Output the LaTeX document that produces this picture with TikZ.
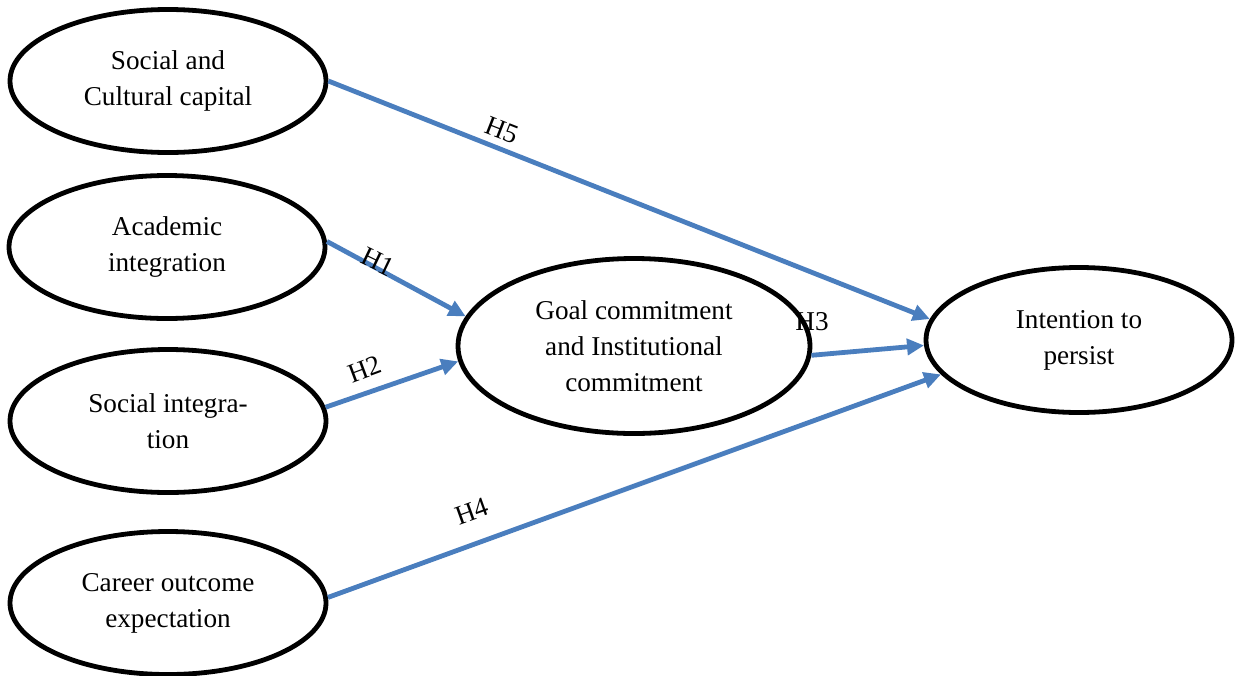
\documentclass[tikz,border=0pt]{standalone}
\usepackage{fontspec}
\setmainfont{Liberation Serif}
\usetikzlibrary{arrows.meta,shapes.geometric}
\definecolor{arrblue}{RGB}{74,126,190}
\begin{document}
\begin{tikzpicture}[x=0.5pt,y=-0.5pt,
  ell/.style={ellipse,draw=black,line width=2.4pt,inner sep=0pt,align=center,
    font=\fontsize{13.6pt}{18pt}\selectfont},
  small/.style={ell,minimum width=158pt,minimum height=71.5pt},
  hyp/.style={draw=arrblue,line width=2.4pt,-{Triangle[length=8.5pt,width=8pt]}},
  hlab/.style={font=\fontsize{13.6pt}{18pt}\selectfont,inner sep=0pt}]
\useasboundingbox (0,0) rectangle (1235,675);
\node[small] (sc) at (168,81) {Social and\\Cultural capital};
\node[small] (ai) at (167,247) {Academic\\integration};
\node[small] (si) at (168,421) {Social integra-\\tion};
\node[small] (ce) at (168,603) {Career outcome\\expectation};
\node[ell,minimum width=176pt,minimum height=87.5pt] (gc) at (634,346) {Goal commitment\\and Institutional\\commitment};
\node[ell,minimum width=153pt,minimum height=72.5pt] (ip) at (1079,340) {Intention to\\persist};
\draw[hyp] (sc.0) -- (ip.172.6);
\draw[hyp] (ai.2) -- (gc.170.4);
\draw[hyp] (si.5) -- (gc.185.6);
\draw[hyp] (gc.-3.4) -- (ip.182.7);
\draw[hyp] (ce.2) -- (ip.194.5);
\node[hlab,rotate=-21.4] (h5) at (502,130) {H5};
\node[hlab,rotate=-25.6] (h1) at (378,262) {H1};
\node[hlab,rotate=20.4] (h2) at (365,369) {H2};
\node[hlab] (h3) at (812,322) {H3};
\node[hlab,rotate=19.7] (h4) at (472,511) {H4};
\end{tikzpicture}
\end{document}
